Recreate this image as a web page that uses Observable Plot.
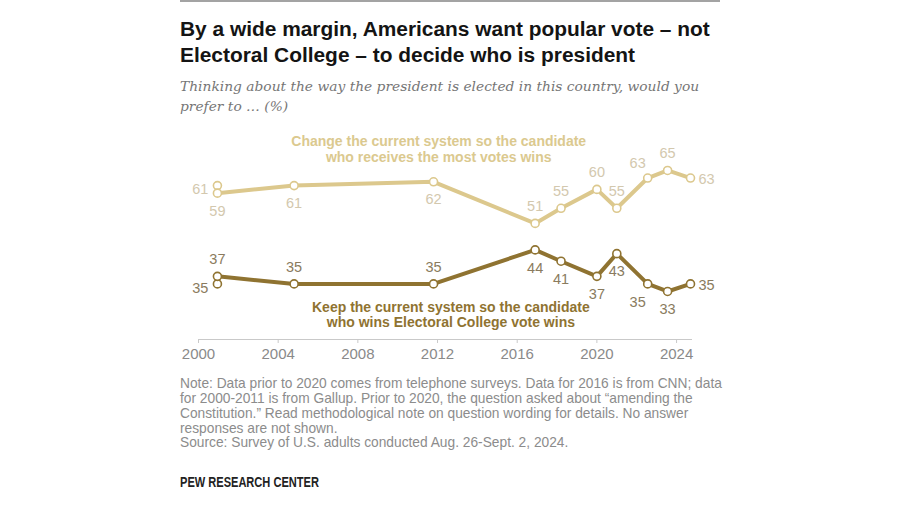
<!DOCTYPE html>
<html>
<head>
<meta charset="utf-8">
<script src="https://cdn.jsdelivr.net/npm/d3@7"></script>
<script src="https://cdn.jsdelivr.net/npm/@observablehq/plot@0.6"></script>
<style>
  html, body { margin: 0; padding: 0; background: #fff; }
  #page { position: relative; width: 900px; height: 505px; overflow: hidden; }
  .abs { position: absolute; left: 180px; width: 700px; }
  .abs div { white-space: nowrap; }
  #rule { top: 0; width: 540px; height: 2px; background: #a3a3a3; }
  #title { top: 16px; font: bold 20.9px/25.5px "Liberation Sans", Arial, sans-serif; color: #141414; }
  #subtitle { top: 76px; font: italic 13.8px/20px "DejaVu Serif", Georgia, serif; color: #767676; }
  #chart { position: absolute; left: 0; top: 120px; }
  #note { top: 377.4px; font: 13.75px/14.7px "Liberation Sans", Arial, sans-serif; color: #8c8c8c; }
  #pew { top: 474px; font: bold 14px/16px "Liberation Sans", Arial, sans-serif; color: #222; transform: scaleX(0.79); transform-origin: left center; }
</style>
</head>
<body>
<div id="page">
  <div id="rule" class="abs"></div>
  <div id="title" class="abs"></div>
  <div id="subtitle" class="abs"></div>
  <div id="chart"></div>
  <div id="note" class="abs"></div>
  <div id="pew" class="abs"></div>
</div>
<script>
// ---- data ----
const years = [2000.95, 2000.95, 2004.8, 2011.8, 2016.9, 2018.2, 2020.0, 2021.0, 2022.55, 2023.55, 2024.7];
const changeSystem = [61, 59, 61, 62, 51, 55, 60, 55, 63, 65, 63];
const keepSystem = [35, 37, 35, 35, 44, 41, 37, 43, 35, 33, 35];
const changePlacement = ["left", "below", "below", "below", "above", "above", "above", "above", "aboveLeft", "above", "right"];
const keepPlacement = ["left", "above", "above", "above", "below", "below", "below", "below", "belowLeft", "below", "right"];
const xTicks = [2000, 2004, 2008, 2012, 2016, 2020, 2024];
const seriesLabels = [
  {series: "change", text: "Change the current system so the candidate\nwho receives the most votes wins", x: 2012.06, y: 70.8},
  {series: "keep", text: "Keep the current system so the candidate\nwho wins Electoral College vote wins", x: 2012.67, y: 26.85}
];
const titleLines = ["By a wide margin, Americans want popular vote \u2013 not", "Electoral College \u2013 to decide who is president"];
const subtitleLines = ["Thinking about the way the president is elected in this country, would you", "prefer to \u2026 (%)"];
const noteLines = [
  "Note: Data prior to 2020 comes from telephone surveys. Data for 2016 is from CNN; data",
  "for 2000-2011 is from Gallup. Prior to 2020, the question asked about \u201camending the",
  "Constitution.\u201d Read methodological note on question wording for details. No answer",
  "responses are not shown.",
  "Source: Survey of U.S. adults conducted Aug. 26-Sept. 2, 2024."
];
const sourceOrg = "PEW RESEARCH CENTER";

// ---- styles ----
const colors = {
  change: {line: "#dcc88d", label: "#d3c8ae", note: "#dbc98f"},
  keep: {line: "#8f7331", label: "#8a7b5e", note: "#8f7331"}
};
const offsets = {
  above: {dx: 0, dy: -17, textAnchor: "middle"},
  below: {dx: 0, dy: 18, textAnchor: "middle"},
  aboveLeft: {dx: -10, dy: -15, textAnchor: "middle"},
  belowLeft: {dx: -10, dy: 18, textAnchor: "middle"},
  left: {dx: -9, dy: 4, textAnchor: "end"},
  right: {dx: 8, dy: 1, textAnchor: "start"}
};

function fillLines(id, lines) {
  const el = document.getElementById(id);
  for (const line of lines) {
    const d = document.createElement("div");
    d.textContent = line;
    el.appendChild(d);
  }
}
fillLines("title", titleLines);
fillLines("subtitle", subtitleLines);
fillLines("note", noteLines);
fillLines("pew", [sourceOrg]);

const changeRows = years.map((year, i) => ({year, value: changeSystem[i], place: changePlacement[i]}));
const keepRows = years.map((year, i) => ({year, value: keepSystem[i], place: keepPlacement[i]}));

const yMin = 20.3;

function valueLabels(rows, key) {
  return Object.keys(offsets).map(p => Plot.text(rows.filter(d => d.place === p), {
    x: "year", y: "value", text: d => String(d.value),
    fill: colors[key].label, fontSize: 14.5,
    dx: offsets[p].dx, dy: offsets[p].dy, textAnchor: offsets[p].textAnchor
  }));
}

const chart = Plot.plot({
  width: 900,
  height: 250,
  marginLeft: 198,
  marginRight: 208,
  marginTop: 23.5,
  marginBottom: 31,
  style: {fontFamily: "'Liberation Sans', Arial, sans-serif", background: "transparent", overflow: "visible"},
  x: {domain: [2000, 2024.8]},
  y: {domain: [yMin, 72], axis: null},
  marks: [
    Plot.ruleY([yMin], {stroke: "#c9c9c9", strokeWidth: 1}),
    Plot.axisX({ticks: xTicks, tickFormat: d => String(d), tickSize: 4, tickPadding: 5,
      stroke: "#c9c9c9", fill: "#8a8a8a", fontSize: 15, label: null}),
    Plot.line(changeRows, {x: "year", y: "value", stroke: colors.change.line, strokeWidth: 4, strokeLinejoin: "round", strokeLinecap: "round"}),
    Plot.line(keepRows, {x: "year", y: "value", stroke: colors.keep.line, strokeWidth: 4, strokeLinejoin: "round", strokeLinecap: "round"}),
    Plot.dot(changeRows, {x: "year", y: "value", r: 4, fill: "white", stroke: colors.change.line, strokeWidth: 1.6}),
    Plot.dot(keepRows, {x: "year", y: "value", r: 4, fill: "white", stroke: colors.keep.line, strokeWidth: 1.6}),
    ...valueLabels(changeRows, "change"),
    ...valueLabels(keepRows, "keep"),
    Plot.text(seriesLabels.filter(d => d.series === "change"), {x: "x", y: "y", text: "text", fill: colors.change.note, fontSize: 14, fontWeight: "bold", lineHeight: 1.15}),
    Plot.text(seriesLabels.filter(d => d.series === "keep"), {x: "x", y: "y", text: "text", fill: colors.keep.note, fontSize: 14, fontWeight: "bold", lineHeight: 1.1})
  ]
});
document.getElementById("chart").appendChild(chart);
</script>
</body>
</html>
